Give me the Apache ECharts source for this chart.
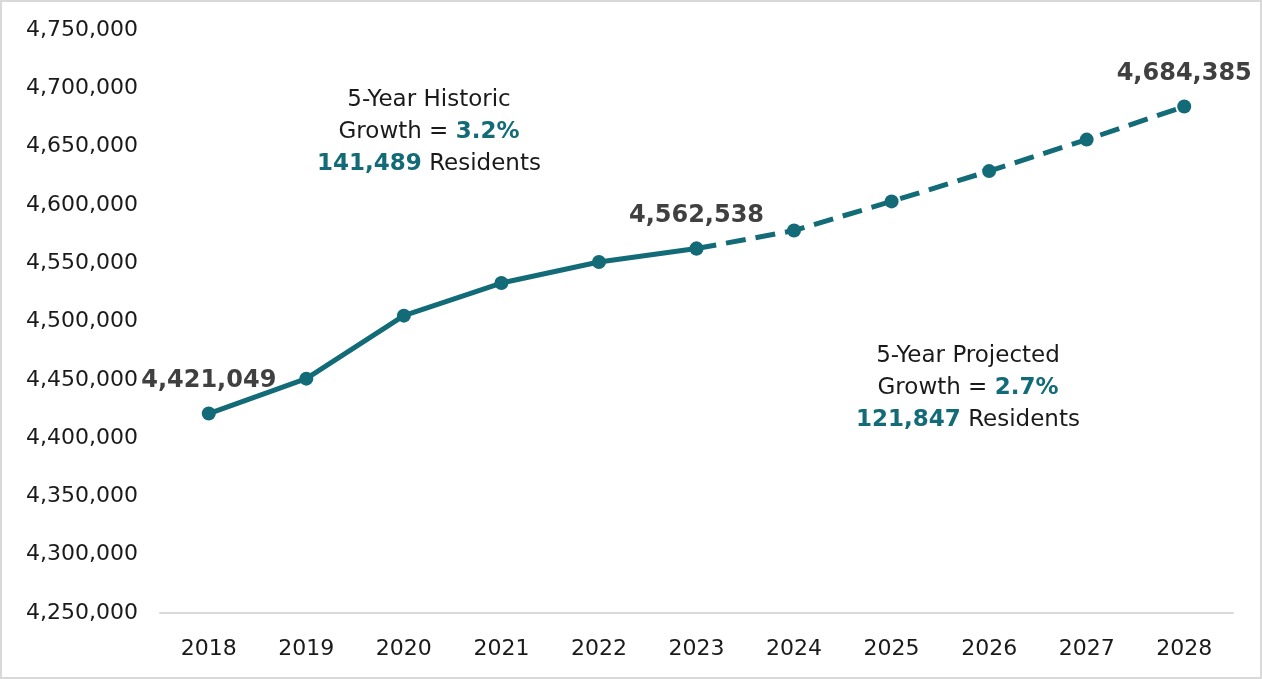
<!DOCTYPE html>
<html>
<head>
<meta charset="utf-8">
<script src="https://cdn.jsdelivr.net/npm/echarts@6/dist/echarts.min.js"></script>
<style>
  html, body { margin: 0; padding: 0; background: #fff; }
  #chart { width: 1262px; height: 679px; box-sizing: border-box; border: 2px solid #d9d9d9; }
</style>
</head>
<body>
<div id="chart"></div>
<script>
// Population by year: actuals through 2023, projections after
const years = ['2018', '2019', '2020', '2021', '2022', '2023', '2024', '2025', '2026', '2027', '2028'];
const population = [4421049, 4451000, 4505000, 4533000, 4551000, 4562538, 4578000, 4603000, 4629000, 4656000, 4684385];
const lastActualIndex = 5;
const labeledYears = ['2018', '2023', '2028'];

const TEAL = '#136b77';
const FONT = 'DejaVu Sans';

const fmt = n => n.toLocaleString('en-US');

function pointItem(v, i) {
  const item = { value: v };
  if (labeledYears.includes(years[i])) {
    item.label = { show: true };
  }
  return item;
}

const actualData = population.map((v, i) => (i <= lastActualIndex ? pointItem(v, i) : '-'));
const projectedData = population.map((v, i) => (i >= lastActualIndex ? (i === lastActualIndex ? v : pointItem(v, i)) : '-'));

// Growth summaries computed from the series
const first = population[0];
const mid = population[lastActualIndex];
const last = population[population.length - 1];
const histDelta = mid - first;
const projDelta = last - mid;
const histPct = (histDelta / first * 100).toFixed(1) + '%';
const projPct = (projDelta / mid * 100).toFixed(1) + '%';

const richStyles = {
  t: { fontFamily: FONT, fontSize: 23, fill: '#1a1a1a', lineHeight: 32, align: 'center' },
  b: { fontFamily: FONT, fontSize: 23, fontWeight: 'bold', fill: TEAL, lineHeight: 32, align: 'center' }
};

function note(cx, top, lines) {
  return {
    type: 'text',
    x: cx,
    y: top,
    style: {
      text: lines.join('\n'),
      rich: richStyles,
      align: 'center',
      verticalAlign: 'top'
    }
  };
}

const axisText = { color: '#1a1a1a', fontFamily: FONT, fontSize: 22 };
const pointLabel = {
  show: false, position: 'top', distance: 14,
  fontFamily: FONT, fontSize: 24, fontWeight: 'bold', color: '#404040',
  formatter: p => fmt(p.value)
};

const chart = echarts.init(document.getElementById('chart'));
chart.setOption({
  animation: false,
  grid: { left: 158, right: 27, top: 28, bottom: 64 },
  xAxis: {
    type: 'category',
    data: years,
    boundaryGap: true,
    axisLine: { lineStyle: { color: '#d9d9d9', width: 2 } },
    axisTick: { show: false },
    axisLabel: Object.assign({ margin: 25 }, axisText)
  },
  yAxis: {
    type: 'value',
    min: 4250000,
    max: 4750000,
    interval: 50000,
    axisLine: { show: false },
    axisTick: { show: false },
    splitLine: { show: false },
    axisLabel: Object.assign({ margin: 22, formatter: v => fmt(v) }, axisText)
  },
  series: [
    {
      type: 'line',
      data: actualData,
      symbol: 'circle',
      symbolSize: 14,
      itemStyle: { color: TEAL },
      lineStyle: { color: TEAL, width: 5 },
      label: pointLabel
    },
    {
      type: 'line',
      data: projectedData,
      symbol: 'circle',
      symbolSize: 14,
      itemStyle: { color: TEAL },
      lineStyle: { color: TEAL, width: 5, type: [20, 10] },
      label: pointLabel
    }
  ],
  graphic: [
    note(427, 82, ['{t|5-Year Historic}', '{t|Growth = }{b|' + histPct + '}', '{b|' + fmt(histDelta) + '}{t| Residents}']),
    note(966, 338, ['{t|5-Year Projected}', '{t|Growth = }{b|' + projPct + '}', '{b|' + fmt(projDelta) + '}{t| Residents}'])
  ]
});
</script>
</body>
</html>
